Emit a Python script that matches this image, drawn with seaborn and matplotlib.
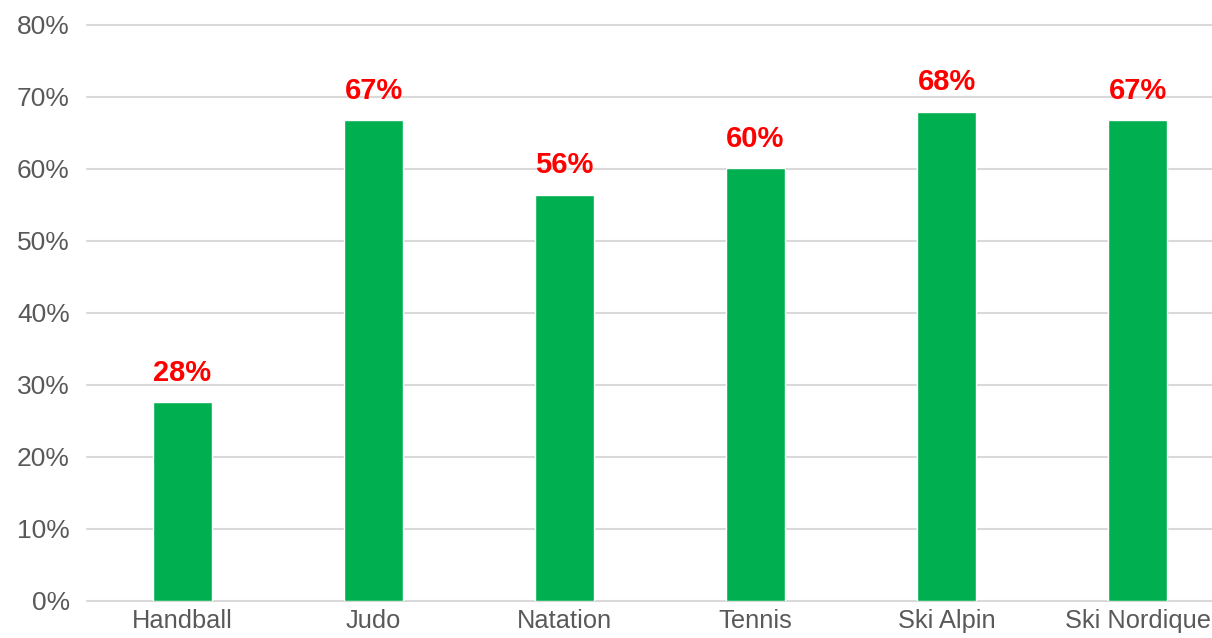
import matplotlib
matplotlib.use("Agg")
import matplotlib.pyplot as plt
import seaborn as sns
import pandas as pd
from matplotlib.ticker import PercentFormatter

sports = ["Handball", "Judo", "Natation", "Tennis", "Ski Alpin", "Ski Nordique"]
shares = [0.276, 0.667, 0.564, 0.601, 0.679, 0.667]
yticks = [0.0, 0.1, 0.2, 0.3, 0.4, 0.5, 0.6, 0.7, 0.8]

df = pd.DataFrame({"sport": sports, "share": shares})

sns.set_theme(style="white")
plt.rcParams["font.family"] = ["Liberation Sans", "DejaVu Sans"]

fig = plt.figure(figsize=(12.12, 6.38), dpi=100)
ax = fig.add_axes([87 / 1212, 37 / 638, 1 - 87 / 1212, (601 - 24.5) / 638])

sns.barplot(data=df, x="sport", y="share", color="#00B050", width=0.31,
            saturation=1, ax=ax, zorder=3)

ax.set_ylim(0, 0.8)
ax.set_xlim(-0.5, 5.39)
ax.set_yticks(yticks)
ax.yaxis.set_major_formatter(PercentFormatter(1.0, decimals=0))
ax.set_xlabel("")
ax.set_ylabel("")

for y in yticks:
    ax.axhline(y, color="#D9D9D9", lw=1.5, zorder=1, clip_on=False)

for s in ax.spines.values():
    s.set_visible(False)

ax.tick_params(axis="y", length=0, pad=12.5, labelsize=19, labelcolor="#595959")
ax.tick_params(axis="x", length=0, pad=6, labelsize=18.3, labelcolor="#595959")

for i, v in enumerate(shares):
    ax.annotate(f"{round(v * 100)}%", xy=(i, v), xytext=(0, 11),
                textcoords="offset points", ha="center", va="bottom",
                color="#FF0000", fontsize=21, fontweight="bold", zorder=4)

fig.savefig("out.png", dpi=100)
